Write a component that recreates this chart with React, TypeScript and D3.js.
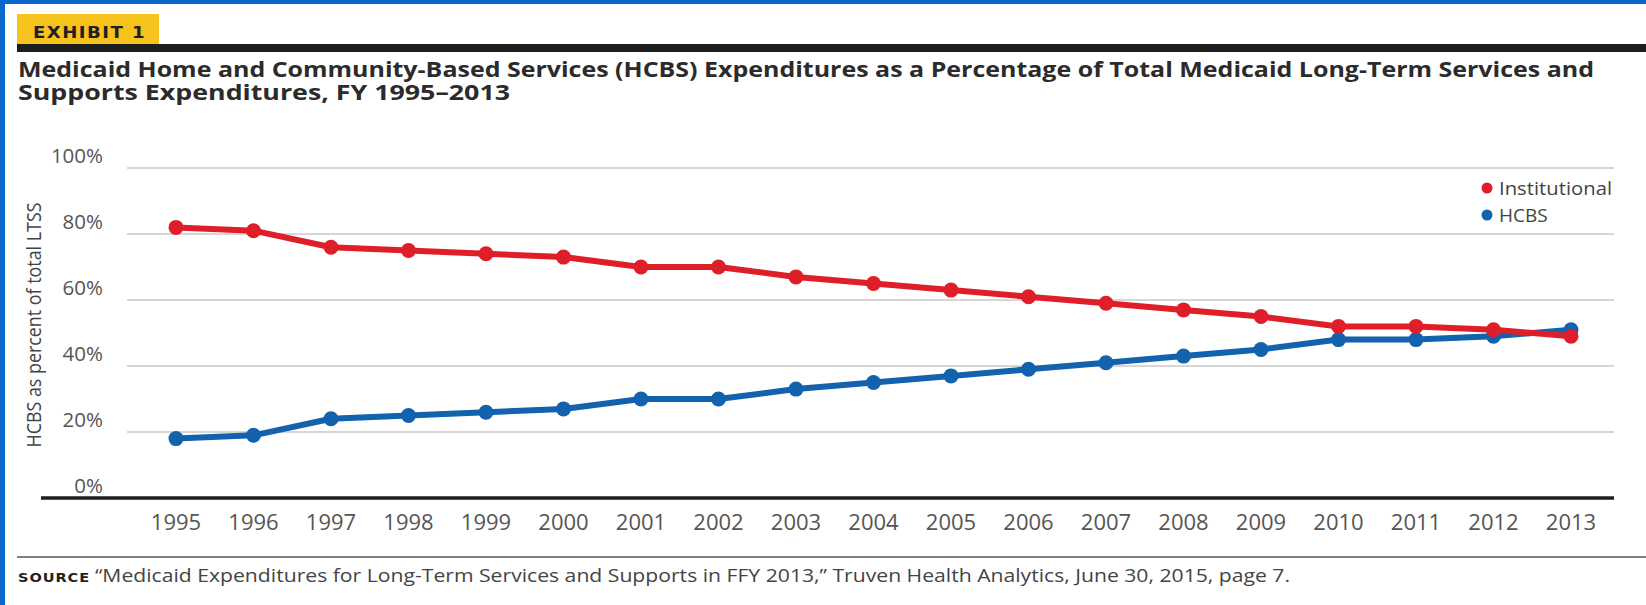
import React from "react";
import * as d3 from "d3";

const years: number[] = [1995,1996,1997,1998,1999,2000,2001,2002,2003,2004,2005,2006,2007,2008,2009,2010,2011,2012,2013];
const institutional: number[] = [82,81,76,75,74,73,70,70,67,65,63,61,59,57,55,52,52,51,49];
const hcbs: number[] = [18,19,24,25,26,27,30,30,33,35,37,39,41,43,45,48,48,49,51];
const yTicks: number[] = [0,20,40,60,80,100];
const seriesNames: string[] = ["Institutional", "HCBS"];
const titleLines: string[] = [
  "Medicaid Home and Community-Based Services (HCBS) Expenditures as a Percentage of Total Medicaid Long-Term Services and",
  "Supports Expenditures, FY 1995\u20132013",
];
const exhibitLabel = "EXHIBIT 1";
const yAxisTitle = "HCBS as percent of total LTSS";
const sourceLabel = "SOURCE";
const sourceText = "\u201CMedicaid Expenditures for Long-Term Services and Supports in FFY 2013,\u201D Truven Health Analytics, June 30, 2015, page 7.";

const W = 1646, H = 605;
const RED = "#de1f2a";
const BLUE = "#1262ad";
const FRAME = "#0b66cc";

export default function App() {
  const x = d3.scaleLinear().domain([1995, 2013]).range([176, 1571]);
  const y = d3.scaleLinear().domain([0, 100]).range([498, 168]);
  const line = d3.line<number>().x((_, i) => x(years[i])).y((v) => y(v));
  const series = [
    { name: seriesNames[1], values: hcbs, color: BLUE },
    { name: seriesNames[0], values: institutional, color: RED },
  ];
  const font = "'Open Sans', 'Liberation Sans', sans-serif";
  return (
    <svg width={W} height={H} style={{ position: "absolute", left: 0, top: 0, display: "block", background: "#fff" }} fontFamily={font}>
      <rect x={0} y={0} width={W} height={H} fill="#fff" />
      <rect x={0} y={0} width={W} height={4} fill={FRAME} />
      <rect x={0} y={0} width={5} height={H} fill={FRAME} />
      {/* exhibit tag */}
      <rect x={17} y={14} width={142} height={30} fill="#f6c21c" />
      <text x={33} y={37.5} fontSize={15} fontWeight={900} fill="#231f20" letterSpacing={1.2} fontFamily="'DejaVu Sans', sans-serif" textLength={113} lengthAdjust="spacingAndGlyphs">{exhibitLabel}</text>
      <rect x={17} y={44} width={W - 17} height={8} fill="#1e1e1e" />
      {/* title */}
      <text x={18} y={77} fontSize={22} fontWeight={700} fill="#2b2b2b" textLength={1576} lengthAdjust="spacingAndGlyphs">{titleLines[0]}</text>
      <text x={18} y={100} fontSize={22} fontWeight={700} fill="#2b2b2b" textLength={492} lengthAdjust="spacingAndGlyphs">{titleLines[1]}</text>
      {/* gridlines */}
      {yTicks.filter((t) => t > 0).map((t) => (
        <line key={t} x1={127} x2={1614} y1={y(t)} y2={y(t)} stroke="#c9c9c9" strokeWidth={1.5} />
      ))}
      {yTicks.map((t) => (
        <text key={"l" + t} x={103} y={y(t) - 5} textAnchor="end" fontSize={20.5} fill="#555" >{t + "%"}</text>
      ))}
      <line x1={41} x2={1614} y1={y(0)} y2={y(0)} stroke="#1e1e1e" strokeWidth={3.5} />
      {/* y axis title */}
      <text transform={`translate(41,325) rotate(-90)`} textAnchor="middle" fontSize={19.5} fill="#444" textLength={245} lengthAdjust="spacingAndGlyphs">{yAxisTitle}</text>
      {/* x labels */}
      {years.map((yr) => (
        <text key={yr} x={x(yr)} y={530} textAnchor="middle" fontSize={22} fill="#555">{yr}</text>
      ))}
      {/* series */}
      {series.map((s) => (
        <g key={s.name}>
          <path d={line(s.values) || ""} fill="none" stroke={s.color} strokeWidth={6} strokeLinejoin="round" />
          {s.values.map((v, i) => (
            <circle key={i} cx={x(years[i])} cy={y(v)} r={7.5} fill={s.color} />
          ))}
        </g>
      ))}
      {/* legend */}
      <circle cx={1487} cy={188} r={5.5} fill={RED} />
      <text x={1499} y={195} fontSize={19} fill="#444" textLength={113} lengthAdjust="spacingAndGlyphs">{seriesNames[0]}</text>
      <circle cx={1487} cy={215} r={5.5} fill={BLUE} />
      <text x={1499} y={222} fontSize={19} fill="#444">{seriesNames[1]}</text>
      {/* source */}
      <line x1={17} x2={W} y1={557} y2={557} stroke="#555" strokeWidth={1.5} />
      <text x={18} y={582} fontSize={12.5} fontWeight={900} fill="#231f20" letterSpacing={0.8} fontFamily="'DejaVu Sans', sans-serif" textLength={72} lengthAdjust="spacingAndGlyphs">{sourceLabel}</text>
      <text x={95} y={582} fontSize={17.5} fill="#444" textLength={1195} lengthAdjust="spacingAndGlyphs">{sourceText}</text>
    </svg>
  );
}
